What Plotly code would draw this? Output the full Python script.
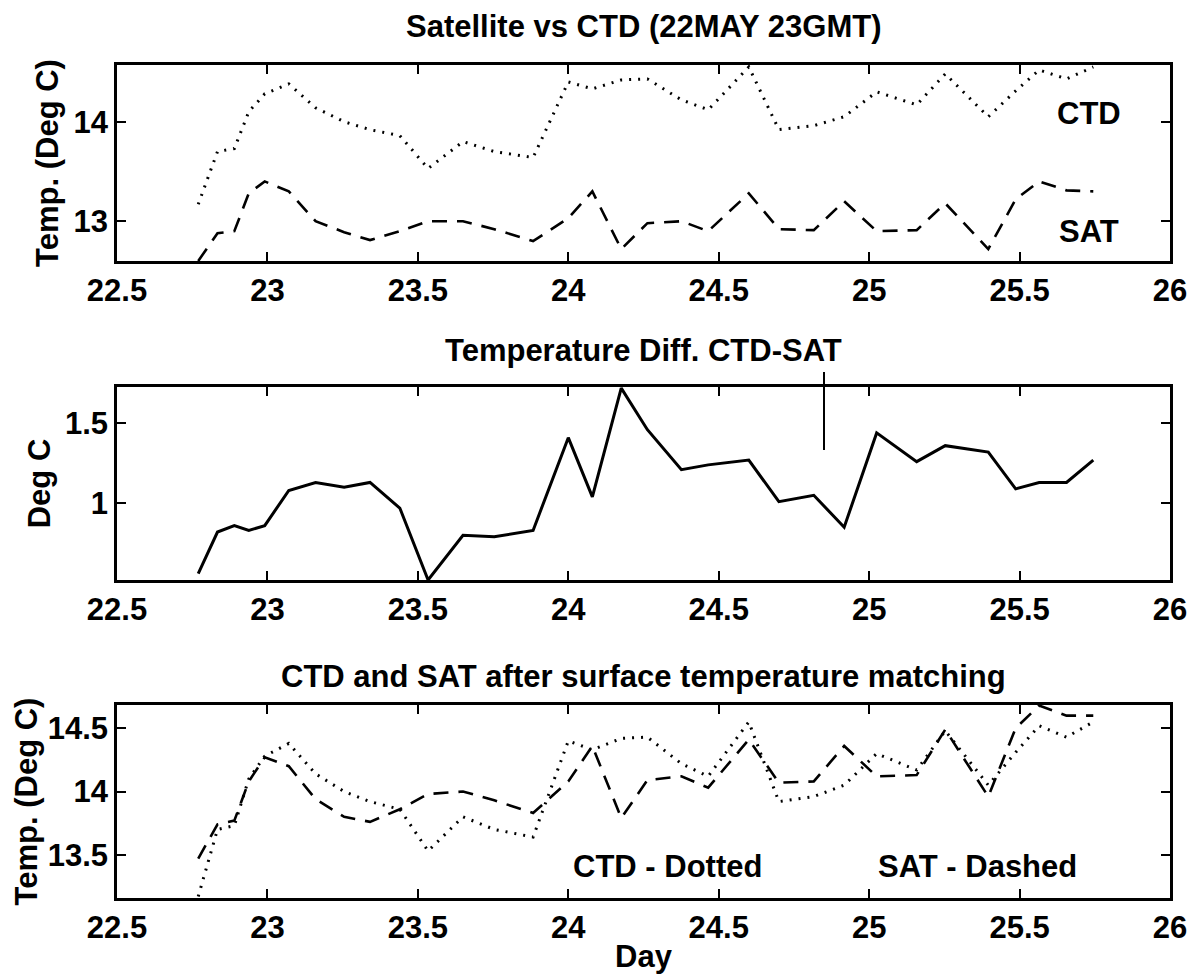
import plotly.graph_objects as go

# ---- data ----
day = [22.77, 22.834, 22.89, 22.938, 22.991, 23.071, 23.16, 23.255, 23.341, 23.44,
       23.534, 23.65, 23.754, 23.883, 24.0, 24.08, 24.176, 24.263, 24.376, 24.465,
       24.6, 24.70, 24.816, 24.917, 25.025, 25.158, 25.253, 25.396, 25.487, 25.565,
       25.656, 25.745]

ctd = [13.17, 13.70, 13.73, 14.10, 14.28, 14.38, 14.14, 14.00, 13.92, 13.86,
       13.53, 13.80, 13.70, 13.64, 14.40, 14.33, 14.42, 14.43, 14.22, 14.12,
       14.55, 13.92, 13.96, 14.05, 14.30, 14.17, 14.48, 14.05, 14.31, 14.52,
       14.43, 14.55]

sat = [12.60, 12.88, 12.90, 13.28, 13.40, 13.30, 13.00, 12.89, 12.81, 12.90,
       13.00, 13.00, 12.92, 12.80, 13.03, 13.30, 12.72, 12.98, 13.00, 12.90,
       13.28, 12.92, 12.91, 13.20, 12.90, 12.91, 13.18, 12.72, 13.22, 13.40,
       13.31, 13.30]

diff = [0.56, 0.82, 0.86, 0.83, 0.86, 1.08, 1.13, 1.10, 1.13, 0.97,
        0.52, 0.80, 0.79, 0.83, 1.41, 1.04, 1.72, 1.46, 1.21, 1.24,
        1.27, 1.01, 1.05, 0.85, 1.44, 1.26, 1.36, 1.32, 1.09, 1.13,
        1.13, 1.27]

sat_matched = [13.47, 13.74, 13.77, 14.08, 14.27, 14.20, 13.94, 13.80, 13.76, 13.86,
               13.98, 14.00, 13.93, 13.83, 14.08, 14.36, 13.79, 14.09, 14.12, 14.03,
               14.41, 14.07, 14.08, 14.36, 14.12, 14.13, 14.49, 13.96, 14.50, 14.68,
               14.60, 14.60]

x_ticks = [22.5, 23, 23.5, 24, 24.5, 25, 25.5, 26]
x_ticktext = ["22.5", "23", "23.5", "24", "24.5", "25", "25.5", "26"]
y1_ticks = [13, 14]
y1_ticktext = ["13", "14"]
y2_ticks = [1, 1.5]
y2_ticktext = ["1", "1.5"]
y3_ticks = [13.5, 14, 14.5]
y3_ticktext = ["13.5", "14", "14.5"]

titles = ["Satellite vs CTD (22MAY 23GMT)",
          "Temperature Diff. CTD-SAT",
          "CTD and SAT after surface temperature matching"]

# ---- styling ----
FONT = "Liberation Sans, Arial, Helvetica, sans-serif"
W, H = 1195, 978
BLACK = "#000000"
DOT = dict(color=BLACK, width=3, dash="2px,7px")
DASH = dict(color=BLACK, width=2.6, dash="15px,10px")
SOLID = dict(color=BLACK, width=3)

fig = go.Figure()
fig.add_trace(go.Scatter(x=day, y=ctd, mode="lines", line=DOT, name="CTD",
                         xaxis="x", yaxis="y"))
fig.add_trace(go.Scatter(x=day, y=sat, mode="lines", line=DASH, name="SAT",
                         xaxis="x", yaxis="y"))
fig.add_trace(go.Scatter(x=day, y=diff, mode="lines", line=SOLID, name="CTD-SAT",
                         xaxis="x2", yaxis="y2"))
fig.add_trace(go.Scatter(x=day, y=ctd, mode="lines", line=DOT, name="CTD - Dotted",
                         xaxis="x3", yaxis="y3"))
fig.add_trace(go.Scatter(x=day, y=sat_matched, mode="lines", line=DASH,
                         name="SAT - Dashed", xaxis="x3", yaxis="y3"))

def px_to_paper(py):
    return 1 - py / H

tickfont = dict(family=FONT, size=31, color=BLACK, weight="bold")

def xaxis(anchor, title=None):
    d = dict(anchor=anchor, domain=[0, 1], range=[22.5, 26],
             tickmode="array", tickvals=x_ticks, ticktext=x_ticktext,
             ticks="inside", ticklen=9, tickwidth=2, tickcolor=BLACK,
             showline=True, linewidth=2.5, linecolor=BLACK, mirror="ticks",
             showgrid=False, zeroline=False, tickfont=tickfont)
    if title:
        d["title"] = dict(text=title, font=tickfont, standoff=2)
    return d

def yaxis(anchor, dom, rng, tv, tt, title, standoff=6):
    return dict(anchor=anchor, domain=dom, range=rng,
                tickmode="array", tickvals=tv, ticktext=tt,
                ticks="inside", ticklen=9, tickwidth=2, tickcolor=BLACK,
                showline=True, linewidth=2.5, linecolor=BLACK, mirror="ticks",
                showgrid=False, zeroline=False, tickfont=tickfont,
                title=dict(text=title, font=tickfont, standoff=standoff))

dom1 = [px_to_paper(261), px_to_paper(65)]
dom2 = [px_to_paper(580), px_to_paper(387)]
dom3 = [px_to_paper(898), px_to_paper(705)]

annotations = []
for t, py in zip(titles, [26, 351, 676]):
    annotations.append(dict(text=t, x=0.5, xref="paper", y=px_to_paper(py), yref="paper",
                            xanchor="center", yanchor="middle", showarrow=False,
                            font=dict(family=FONT, size=31, color=BLACK, weight="bold")))

labels = [("CTD", 25.73, 14.08, "x", "y"), ("SAT", 25.73, 12.90, "x", "y"),
          ("CTD - Dotted", 24.33, 13.41, "x3", "y3"),
          ("SAT - Dashed", 25.36, 13.41, "x3", "y3")]
for text, lx, ly, xr, yr in labels:
    annotations.append(dict(text=text, x=lx, y=ly, xref=xr, yref=yr,
                            xanchor="center", yanchor="middle", showarrow=False,
                            font=dict(family=FONT, size=31, color=BLACK, weight="bold")))

fig.update_layout(
    width=W, height=H,
    margin=dict(l=117, r=25, t=0, b=0),
    paper_bgcolor="white", plot_bgcolor="white",
    showlegend=False,
    font=dict(family=FONT, color=BLACK),
    xaxis=xaxis("y"),
    yaxis=yaxis("x", dom1, [12.6, 14.57], y1_ticks, y1_ticktext, "Temp. (Deg C)"),
    xaxis2=xaxis("y2"),
    yaxis2=yaxis("x2", dom2, [0.52, 1.727], y2_ticks, y2_ticktext, "Deg C"),
    xaxis3=xaxis("y3", "Day"),
    yaxis3=yaxis("x3", dom3, [13.158, 14.684], y3_ticks, y3_ticktext, "Temp. (Deg C)",
                 standoff=1),
    annotations=annotations,
    shapes=[dict(type="line", xref="x2", yref="paper", x0=24.85, x1=24.85,
                 y0=px_to_paper(450), y1=px_to_paper(372),
                 line=dict(color=BLACK, width=2))],
)

fig.write_html("out.html", config={"displayModeBar": False},
               post_script="document.body.style.margin='0';document.body.style.overflow='hidden';")
